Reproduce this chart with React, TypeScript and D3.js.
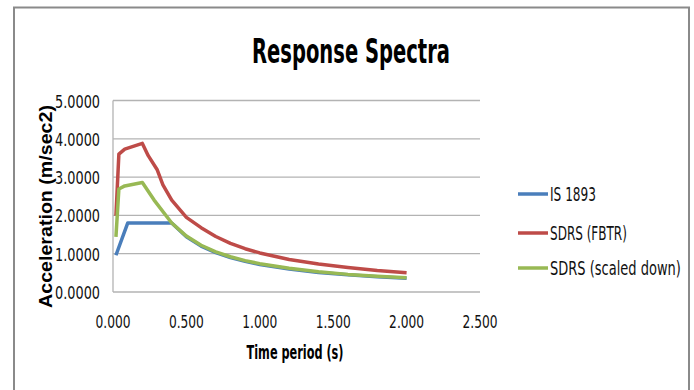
import React, { useLayoutEffect, useRef, useState } from "react";
import * as d3 from "d3";

const periodsIS = [0.02, 0.1, 0.4, 0.5, 0.6, 0.7, 0.8, 0.9, 1.0, 1.2, 1.4, 1.6, 1.8, 2.0];
const valuesIS = [0.96, 1.8, 1.8, 1.44, 1.2, 1.03, 0.9, 0.8, 0.72, 0.6, 0.51, 0.45, 0.4, 0.36];

const periodsFBTR = [0.02, 0.04, 0.08, 0.2, 0.24, 0.3, 0.34, 0.4, 0.5, 0.6, 0.7, 0.8, 0.9, 1.0, 1.2, 1.4, 1.6, 1.8, 2.0];
const valuesFBTR = [1.99, 3.6, 3.73, 3.88, 3.56, 3.2, 2.8, 2.4, 1.95, 1.68, 1.45, 1.27, 1.13, 1.02, 0.85, 0.73, 0.64, 0.56, 0.5];

const periodsScaled = [0.02, 0.04, 0.08, 0.2, 0.28, 0.4, 0.5, 0.6, 0.7, 0.8, 0.9, 1.0, 1.2, 1.4, 1.6, 1.8, 2.0];
const valuesScaled = [1.44, 2.69, 2.77, 2.86, 2.4, 1.8, 1.46, 1.22, 1.05, 0.92, 0.82, 0.74, 0.62, 0.53, 0.46, 0.41, 0.37];

const seriesNames = ["IS 1893", "SDRS (FBTR)", "SDRS (scaled down)"];
const seriesColors = ["#4a7ebb", "#be4b48", "#98b954"];
const legendWidths = [46, 77, 131];

const xTicks = [0, 0.5, 1.0, 1.5, 2.0, 2.5];
const yTicks = [0, 1, 2, 3, 4, 5];

const title = "Response Spectra";
const xTitle = "Time period (s)";
const yTitle = "Acceleration (m/sec2)";

const NARROW = '"Liberation Sans Narrow", "DejaVu Sans Condensed", "Liberation Sans", sans-serif';

function FitText(props: {
  x: number;
  y: number;
  width: number;
  anchor?: "start" | "middle" | "end";
  rotate?: number;
  fontFamily: string;
  fontSize: number;
  fontWeight?: string;
  fill?: string;
  children: string;
}) {
  const ref = useRef<SVGTextElement>(null);
  const [sx, setSx] = useState(1);
  useLayoutEffect(() => {
    if (ref.current) {
      const len = ref.current.getComputedTextLength();
      if (len > 0) setSx(props.width / len);
    }
  }, [props.width, props.children, props.fontSize]);
  const rot = props.rotate ? ` rotate(${props.rotate})` : "";
  return (
    <text
      ref={ref}
      transform={`translate(${props.x},${props.y})${rot} scale(${sx},1)`}
      textAnchor={props.anchor || "start"}
      fontFamily={props.fontFamily}
      fontSize={props.fontSize}
      fontWeight={props.fontWeight || "normal"}
      fill={props.fill || "#111"}
    >
      {props.children}
    </text>
  );
}

export default function App() {
  const x = d3.scaleLinear().domain([0, 2.5]).range([113, 480]);
  const y = d3.scaleLinear().domain([0, 5]).range([292, 100.5]);

  const series = [
    { p: periodsIS, v: valuesIS },
    { p: periodsFBTR, v: valuesFBTR },
    { p: periodsScaled, v: valuesScaled },
  ];
  const line = d3
    .line<[number, number]>()
    .x((d) => x(d[0]))
    .y((d) => y(d[1]));

  const legendY = [194, 233, 268];
  return (
    <svg
      width={694}
      height={390}
      style={{ position: "absolute", left: 0, top: 0, background: "#fff" }}
    >
      <rect x={0} y={0} width={694} height={390} fill="#fff" />
      <path d="M14,390 L14,7.5 L689,7.5 L689,390" fill="none" stroke="#8a8a8a" strokeWidth={2} />

      <FitText x={351} y={62.5} width={198} anchor="middle" fontFamily={NARROW} fontWeight="bold" fontSize={33} fill="#000">
        {title}
      </FitText>

      {yTicks.map((t) => (
        <line key={"g" + t} x1={x(0)} x2={x(2.5)} y1={y(t)} y2={y(t)} stroke="#b3b3b3" strokeWidth={1.3} />
      ))}
      <line x1={x(0)} x2={x(0)} y1={y(0)} y2={y(5)} stroke="#b3b3b3" strokeWidth={1.3} />

      {yTicks.map((t) => (
        <FitText key={"yl" + t} x={100} y={y(t) + 7} width={45} anchor="end" fontFamily={NARROW} fontSize={18.5}>
          {t.toFixed(4)}
        </FitText>
      ))}
      {xTicks.map((t) => (
        <FitText key={"xl" + t} x={x(t)} y={327.5} width={35} anchor="middle" fontFamily={NARROW} fontSize={17.5}>
          {t.toFixed(3)}
        </FitText>
      ))}

      <FitText x={295} y={358.5} width={97} anchor="middle" fontFamily={NARROW} fontWeight="bold" fontSize={19} fill="#000">
        {xTitle}
      </FitText>
      <FitText
        x={52}
        y={206.5}
        rotate={-90}
        width={203}
        anchor="middle"
        fontFamily='"Liberation Sans", Arial, sans-serif'
        fontWeight="bold"
        fontSize={18.5}
        fill="#000"
      >
        {yTitle}
      </FitText>

      {series.map((s, i) => (
        <path
          key={"s" + i}
          d={line(s.p.map((p, j) => [p, s.v[j]] as [number, number])) || ""}
          fill="none"
          stroke={seriesColors[i]}
          strokeWidth={3.5}
          strokeLinejoin="round"
        />
      ))}

      {seriesNames.map((n, i) => (
        <g key={"lg" + i}>
          <line x1={518} x2={548} y1={legendY[i]} y2={legendY[i]} stroke={seriesColors[i]} strokeWidth={3.5} />
          <FitText x={550} y={legendY[i] + 7} width={legendWidths[i]} fontFamily={NARROW} fontSize={19}>
            {n}
          </FitText>
        </g>
      ))}
    </svg>
  );
}
